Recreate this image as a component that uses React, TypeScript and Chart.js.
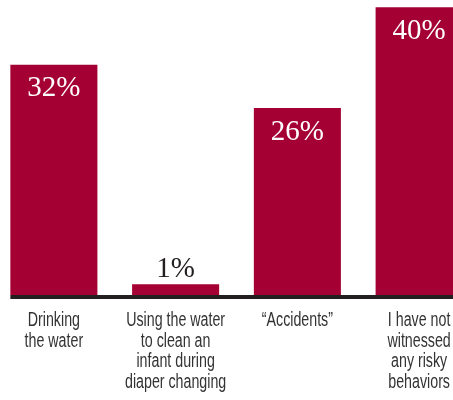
import React, { useEffect, useRef } from "react";
import { Chart, registerables } from "chart.js";
Chart.register(...registerables);

const categories: string[][] = [
  ["Drinking", "the water"],
  ["Using the water", "to clean an", "infant during", "diaper changing"],
  ["\u201CAccidents\u201D"],
  ["I have not", "witnessed", "any risky", "behaviors"],
];
const values = [32, 1.5, 26, 40];
const valueLabels = ["32%", "1%", "26%", "40%"];

const BAR = "#A50034";
const INK = "#231F20";
const LABEL_FONT = "'Liberation Sans', Arial, sans-serif";
const VALUE_FONT = "'Liberation Serif', 'DejaVu Serif', serif";

const baselinePlugin = {
  id: "baseline",
  afterDatasetsDraw(chart: any) {
    const meta = chart.getDatasetMeta(0);
    const first = meta.data[0] as any;
    const left = first.x - first.width / 2;
    const y0 = chart.scales.y.getPixelForValue(0);
    const ctx = chart.ctx;
    ctx.save();
    ctx.fillStyle = INK;
    ctx.fillRect(left, y0, chart.width - left, 4);
    ctx.restore();
  },
};

const valueLabelPlugin = {
  id: "valueLabels",
  afterDatasetsDraw(chart: any) {
    const meta = chart.getDatasetMeta(0);
    const ctx = chart.ctx;
    ctx.save();
    ctx.font = `29px ${VALUE_FONT}`;
    ctx.textAlign = "center";
    meta.data.forEach((el: any, i: number) => {
      const v = values[i];
      if (v > 5) {
        ctx.fillStyle = "#FFFFFF";
        ctx.textBaseline = "middle";
        ctx.fillText(valueLabels[i], el.x, el.y + 24);
      } else {
        ctx.fillStyle = INK;
        ctx.textBaseline = "alphabetic";
        ctx.fillText(valueLabels[i], el.x, el.y - 7);
      }
    });
    ctx.restore();
  },
};

// Category labels drawn at the x-scale tick positions in a condensed style
const categoryLabelPlugin = {
  id: "categoryLabels",
  afterDraw(chart: any) {
    const xs = chart.scales.x;
    const ctx = chart.ctx;
    const top = xs.top;
    ctx.save();
    ctx.font = `19.5px ${LABEL_FONT}`;
    ctx.fillStyle = "#333333";
    ctx.textAlign = "center";
    ctx.textBaseline = "alphabetic";
    categories.forEach((lines, i) => {
      const x = xs.getPixelForTick(i);
      lines.forEach((line, j) => {
        ctx.save();
        ctx.translate(x, top + 31 + j * 20.5);
        ctx.scale(0.73, 1);
        ctx.fillText(line, 0, 0);
        ctx.restore();
      });
    });
    ctx.restore();
  },
};

export default function App() {
  const ref = useRef<HTMLCanvasElement>(null);
  useEffect(() => {
    const chart = new Chart(ref.current!, {
      type: "bar",
      data: {
        labels: categories,
        datasets: [
          {
            data: values,
            backgroundColor: BAR,
            categoryPercentage: 1,
            barPercentage: 0.715,
          },
        ],
      },
      options: {
        animation: false,
        responsive: true,
        maintainAspectRatio: false,
        layout: { padding: 0 },
        plugins: { legend: { display: false }, tooltip: { enabled: false } },
        scales: {
          x: {
            grid: { display: false, drawTicks: false },
            border: { display: false },
            ticks: { display: false },
            afterFit: (s: any) => {
              s.height = 105;
            },
          },
          y: { display: false, min: 0, max: 41 },
        },
      },
      plugins: [baselinePlugin, valueLabelPlugin, categoryLabelPlugin],
    });
    return () => chart.destroy();
  }, []);
  return (
    <div style={{ position: "fixed", left: -7.3, top: 0, width: 487, height: 400 }}>
      <canvas ref={ref} />
    </div>
  );
}
